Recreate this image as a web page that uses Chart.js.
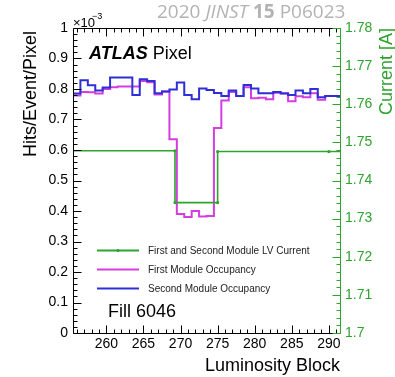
<!DOCTYPE html>
<html>
<head>
<meta charset="utf-8">
<script src="https://cdn.jsdelivr.net/npm/chart.js@4.4.1/dist/chart.umd.min.js"></script>
<style>
  html, body { margin: 0; padding: 0; background: #fff; }
  #wrap { width: 395px; height: 377px; position: relative; }
</style>
</head>
<body>
<div id="wrap"><canvas id="c" width="395" height="377"></canvas></div>
<script>
// Luminosity blocks (bin centres) of fill 6046
const lumiBlocks = [256, 257, 258, 259, 260, 261, 262, 263, 264, 265, 266, 267,
                    268, 269, 270, 271, 272, 273, 274, 275, 276, 277, 278, 279,
                    280, 281, 282, 283, 284, 285, 286, 287, 288, 289, 290, 291];

// Occupancy in units of 1e-3 hits/event/pixel
const firstModule = [0.779, 0.790, 0.789, 0.785, 0.800, 0.806, 0.808, 0.808, 0.808, 0.826, 0.822, 0.782,
                     0.792, 0.635, 0.390, 0.380, 0.400, 0.382, 0.384, 0.672, 0.762, 0.790, 0.777, 0.806,
                     0.770, 0.771, 0.766, 0.788, 0.786, 0.760, 0.776, 0.773, 0.786, 0.765, 0.777, 0.777];
const secondModule = [0.785, 0.829, 0.812, 0.795, 0.805, 0.838, 0.838, 0.838, 0.780, 0.832, 0.826, 0.786,
                      0.792, 0.798, 0.821, 0.780, 0.766, 0.802, 0.797, 0.787, 0.777, 0.795, 0.777, 0.813,
                      0.802, 0.786, 0.786, 0.790, 0.785, 0.780, 0.795, 0.786, 0.800, 0.773, 0.777, 0.777];

// LV current shared by both modules [A]
const currentLumi = [255.5, 269.25, 269.25, 275.0, 275.0, 290.0, 291.5];
const currentAmps = [1.7478, 1.7478, 1.7342, 1.7342, 1.7476, 1.7476, 1.7476];
const currentMarks = [0, 1.6, 1.6, 1.6, 1.6, 1.6, 0];

// Axis ranges and labelled ticks
const lumiRange = [255.5, 291.5];
const lumiTicks = [260, 265, 270, 275, 280, 285, 290];
const occTicks = [0, 0.1, 0.2, 0.3, 0.4, 0.5, 0.6, 0.7, 0.8, 0.9, 1];
const currTicks = [1.70, 1.71, 1.72, 1.73, 1.74, 1.75, 1.76, 1.77, 1.78];

const BLUE = '#2f2fd8';
const MAGENTA = '#d43ee0';
const GREEN = '#2ea32e';
const SANS = '"Liberation Sans", Arial, sans-serif';

// Histogram outline: one point at each lower bin edge plus the closing edge
function histPoints(vals) {
  const pts = lumiBlocks.map((lb, i) => ({ x: lb - 0.5, y: vals[i] }));
  pts.push({ x: lumiBlocks[lumiBlocks.length - 1] + 0.5, y: vals[vals.length - 1] });
  return pts;
}

const currentPoints = currentLumi.map((lb, i) => ({ x: lb, y: currentAmps[i] }));

function seg(ctx, x1, y1, x2, y2) {
  ctx.beginPath(); ctx.moveTo(x1, y1); ctx.lineTo(x2, y2); ctx.stroke();
}

// Frame, inward ROOT-style ticks and the free-standing labels
const decorations = {
  id: 'decorations',
  afterDraw(chart) {
    const { ctx, chartArea: a, scales } = chart;
    const sx = scales.x, sy = scales.y, sy2 = scales.y2;
    const L = Math.round(a.left) + 0.5, R = Math.round(a.right) + 0.5;
    const T = Math.round(a.top) + 0.5, B = Math.round(a.bottom) + 0.5;
    ctx.save();
    ctx.lineWidth = 1;

    // black frame (left, top, bottom)
    ctx.strokeStyle = '#000';
    seg(ctx, L, T, R, T);
    seg(ctx, L, B, R, B);
    seg(ctx, L, T, L, B);

    // luminosity block ticks on bottom and top
    for (let v = Math.ceil(lumiRange[0]); v <= lumiRange[1]; v++) {
      const px = Math.round(sx.getPixelForValue(v)) + 0.5;
      const len = v % 5 === 0 ? 8 : 4;
      seg(ctx, px, B, px, B - len);
      seg(ctx, px, T, px, T + len);
    }
    // occupancy ticks on the left
    for (let k = 0; k <= 50; k++) {
      const py = Math.round(sy.getPixelForValue(k * 0.02)) + 0.5;
      const len = k % 5 === 0 ? 8 : 4;
      seg(ctx, L, py, L + len, py);
    }

    // green current axis on the right
    ctx.strokeStyle = GREEN;
    seg(ctx, R, T, R, B);
    for (let k = 0; k <= 40; k++) {
      const py = Math.round(sy2.getPixelForValue(1.70 + k * 0.002)) + 0.5;
      const len = k % 5 === 0 ? 8 : 4;
      seg(ctx, R, py, R - len, py);
    }

    // axis titles
    ctx.fillStyle = '#000';
    ctx.font = '18px ' + SANS;
    ctx.textBaseline = 'alphabetic';
    ctx.textAlign = 'right';
    ctx.fillText('Luminosity Block', a.right, 371);

    ctx.save();
    ctx.translate(36, a.top + 3);
    ctx.rotate(-Math.PI / 2);
    ctx.font = '18px ' + SANS;
    ctx.textAlign = 'right';
    ctx.fillText('Hits/Event/Pixel', 0, 0);
    ctx.restore();

    ctx.save();
    ctx.fillStyle = GREEN;
    ctx.translate(392, a.top);
    ctx.rotate(-Math.PI / 2);
    ctx.font = '18px ' + SANS;
    ctx.textAlign = 'right';
    ctx.fillText('Current [A]', 0, 0);
    ctx.restore();

    // exponent of the occupancy axis
    ctx.textAlign = 'left';
    ctx.font = '13px ' + SANS;
    ctx.fillText('\u00d710', 73, 27);
    ctx.font = '9px ' + SANS;
    ctx.fillText('\u22123', 92, 19);

    // experiment label
    ctx.font = 'italic bold 18px ' + SANS;
    ctx.fillText('ATLAS', 89, 59);
    const w = ctx.measureText('ATLAS').width;
    ctx.font = '18px ' + SANS;
    ctx.fillText(' Pixel', 89 + w, 59);

    // fill number
    ctx.fillText('Fill 6046', 108, 317);

    // legend
    const rows = [
      { label: 'First and Second Module LV Current', color: GREEN, marker: true, y: 250 },
      { label: 'First Module Occupancy', color: MAGENTA, marker: false, y: 269 },
      { label: 'Second Module Occupancy', color: BLUE, marker: false, y: 288 }
    ];
    ctx.font = '10px ' + SANS;
    ctx.textBaseline = 'middle';
    rows.forEach(r => {
      ctx.strokeStyle = r.color;
      ctx.lineWidth = 2;
      seg(ctx, 97, r.y + 0.5, 139, r.y + 0.5);
      if (r.marker) {
        ctx.fillStyle = r.color;
        ctx.beginPath(); ctx.arc(118, r.y + 0.5, 1.6, 0, Math.PI * 2); ctx.fill();
      }
      ctx.fillStyle = '#222';
      ctx.fillText(r.label, 148, r.y + 1);
    });

    // journal reference
    ctx.textBaseline = 'alphabetic';
    ctx.fillStyle = '#b3b3b3';
    const parts = [
      { t: '2020 ', f: '' },
      { t: 'JINST', f: 'italic ' },
      { t: ' ', f: '' },
      { t: '15', f: 'bold ' },
      { t: ' P06023', f: '' }
    ];
    let jx = 157;
    parts.forEach(p => {
      ctx.font = p.f + '19px "Open Sans", sans-serif';
      ctx.fillText(p.t, jx, 18);
      jx += ctx.measureText(p.t).width;
    });

    ctx.restore();
  }
};

new Chart(document.getElementById('c'), {
  type: 'line',
  data: {
    datasets: [
      {
        label: 'First and Second Module LV Current',
        data: currentPoints,
        yAxisID: 'y2',
        borderColor: GREEN,
        backgroundColor: GREEN,
        borderWidth: 1.6,
        pointRadius: currentMarks,
        pointBorderWidth: 0,
        pointBackgroundColor: GREEN,
        fill: false,
        tension: 0,
        order: 0
      },
      {
        label: 'Second Module Occupancy',
        data: histPoints(secondModule),
        yAxisID: 'y',
        borderColor: BLUE,
        borderWidth: 2,
        pointRadius: 0,
        stepped: 'before',
        fill: false,
        order: 1
      },
      {
        label: 'First Module Occupancy',
        data: histPoints(firstModule),
        yAxisID: 'y',
        borderColor: MAGENTA,
        borderWidth: 2,
        pointRadius: 0,
        stepped: 'before',
        fill: false,
        order: 2
      }
    ]
  },
  options: {
    responsive: false,
    animation: false,
    events: [],
    layout: { padding: { top: 28, left: 0, right: 0, bottom: 0 } },
    plugins: { legend: { display: false }, tooltip: { enabled: false }, title: { display: false } },
    scales: {
      x: {
        type: 'linear',
        min: lumiRange[0],
        max: lumiRange[1],
        afterBuildTicks: s => { s.ticks = lumiTicks.map(v => ({ value: v })); },
        afterFit: s => { s.height = 44; },
        grid: { display: false, drawTicks: false },
        border: { display: false },
        ticks: { color: '#000', font: { family: SANS, size: 14 }, padding: 3, maxRotation: 0, autoSkip: false }
      },
      y: {
        position: 'left',
        min: 0,
        max: 1,
        afterBuildTicks: s => { s.ticks = occTicks.map(v => ({ value: v })); },
        afterFit: s => { s.width = 73; },
        grid: { display: false, drawTicks: false },
        border: { display: false },
        ticks: { color: '#000', font: { family: SANS, size: 14 }, padding: 5, autoSkip: false,
                 callback: v => String(+v.toFixed(1)) }
      },
      y2: {
        position: 'right',
        min: 1.70,
        max: 1.78,
        afterBuildTicks: s => { s.ticks = currTicks.map(v => ({ value: v })); },
        afterFit: s => { s.width = 55; },
        grid: { display: false, drawTicks: false },
        border: { display: false },
        ticks: { color: GREEN, font: { family: SANS, size: 14 }, padding: 5, autoSkip: false,
                 callback: v => String(+v.toFixed(2)) }
      }
    }
  },
  plugins: [decorations]
});
</script>
</body>
</html>
